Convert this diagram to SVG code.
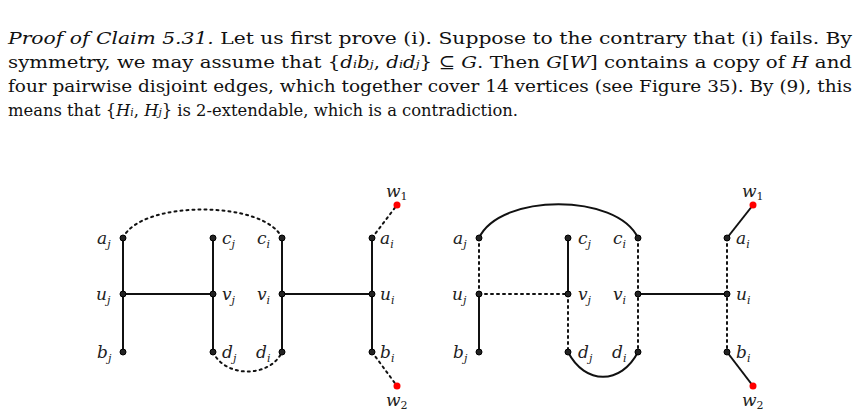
<svg xmlns="http://www.w3.org/2000/svg" width="862" height="414" viewBox="0 0 862 414">
<style>
.t{font-family:"DejaVu Serif",serif;font-size:17px;fill:#111}
.l{font-family:"DejaVu Serif",serif;font-size:17px;font-style:italic;fill:#222}
.s{font-size:11px}
.e{stroke:#111;stroke-width:2;fill:none}
.d{stroke:#111;stroke-width:2;fill:none;stroke-dasharray:2 4;stroke-linecap:round}
.n{fill:#222;stroke:#000;stroke-width:1}
.r{fill:#f00}
</style>
<rect width="862" height="414" fill="#fff"/>
<g id="text">
<text class="t" x="8" y="44" textLength="844" lengthAdjust="spacingAndGlyphs"><tspan font-style="italic">Proof of Claim 5.31.</tspan> Let us first prove (i).  Suppose to the contrary that (i) fails.  By</text>
<text class="t" x="8" y="68" textLength="844" lengthAdjust="spacingAndGlyphs">symmetry, we may assume that {<tspan font-style="italic">d</tspan><tspan class="s" font-style="italic">i</tspan><tspan font-style="italic">b</tspan><tspan class="s" font-style="italic">j</tspan>, <tspan font-style="italic">d</tspan><tspan class="s" font-style="italic">i</tspan><tspan font-style="italic">d</tspan><tspan class="s" font-style="italic">j</tspan>} ⊆ <tspan font-style="italic">G</tspan>. Then <tspan font-style="italic">G</tspan>[<tspan font-style="italic">W</tspan>] contains a copy of <tspan font-style="italic">H</tspan> and</text>
<text class="t" x="8" y="92" textLength="844" lengthAdjust="spacingAndGlyphs">four pairwise disjoint edges, which together cover 14 vertices (see Figure 35). By (9), this</text>
<text class="t" x="8" y="116" textLength="510" lengthAdjust="spacingAndGlyphs">means that {<tspan font-style="italic">H</tspan><tspan class="s" font-style="italic">i</tspan>, <tspan font-style="italic">H</tspan><tspan class="s" font-style="italic">j</tspan>} is 2-extendable, which is a contradiction.</text>
</g>
<g id="connectors">
<line class="e" x1="123" y1="238" x2="123" y2="352"/>
<line class="e" x1="123" y1="294" x2="213" y2="294"/>
<line class="e" x1="213" y1="238" x2="213" y2="352"/>
<line class="e" x1="282" y1="238" x2="282" y2="352"/>
<line class="e" x1="282" y1="294" x2="372" y2="294"/>
<line class="e" x1="372" y1="238" x2="372" y2="352"/>
<path class="d" d="M123 238 C140 200 265 200 282 238"/>
<path class="d" d="M213 352 C225 378 270 378 282 352"/>
<line class="d" x1="372" y1="238" x2="397" y2="205"/>
<line class="d" x1="372" y1="352" x2="397" y2="386"/>

<line class="d" x1="479" y1="238" x2="479" y2="294"/>
<line class="e" x1="479" y1="294" x2="479" y2="352"/>
<line class="d" x1="479" y1="294" x2="568" y2="294"/>
<line class="e" x1="568" y1="238" x2="568" y2="294"/>
<line class="d" x1="568" y1="294" x2="568" y2="352"/>
<line class="d" x1="638" y1="238" x2="638" y2="352"/>
<line class="e" x1="638" y1="294" x2="727" y2="294"/>
<line class="d" x1="727" y1="238" x2="727" y2="352"/>
<path class="e" d="M479 238 C500 193 617 193 638 238"/>
<path class="e" d="M568 352 C585 385 621 385 638 352"/>
<line class="e" x1="727" y1="238" x2="753" y2="205"/>
<line class="e" x1="727" y1="352" x2="753" y2="386"/>
</g>
<g id="nodes-left">
<g id="aj1"><circle class="n" cx="123" cy="238" r="3"/><text class="l" x="97" y="244">a<tspan class="s" dy="4">j</tspan></text></g>
<g id="uj1"><circle class="n" cx="123" cy="294" r="3"/><text class="l" x="96" y="300">u<tspan class="s" dy="4">j</tspan></text></g>
<g id="bj1"><circle class="n" cx="123" cy="352" r="3"/><text class="l" x="97" y="358">b<tspan class="s" dy="4">j</tspan></text></g>
<g id="cj1"><circle class="n" cx="213" cy="238" r="3"/><text class="l" x="222" y="244">c<tspan class="s" dy="4">j</tspan></text></g>
<g id="vj1"><circle class="n" cx="213" cy="294" r="3"/><text class="l" x="222" y="300">v<tspan class="s" dy="4">j</tspan></text></g>
<g id="dj1"><circle class="n" cx="213" cy="352" r="3"/><text class="l" x="222" y="358">d<tspan class="s" dy="4">j</tspan></text></g>
<g id="ci1"><circle class="n" cx="282" cy="238" r="3"/><text class="l" x="257" y="244">c<tspan class="s" dy="4">i</tspan></text></g>
<g id="vi1"><circle class="n" cx="282" cy="294" r="3"/><text class="l" x="257" y="300">v<tspan class="s" dy="4">i</tspan></text></g>
<g id="di1"><circle class="n" cx="282" cy="352" r="3"/><text class="l" x="256" y="358">d<tspan class="s" dy="4">i</tspan></text></g>
<g id="ai1"><circle class="n" cx="372" cy="238" r="3"/><text class="l" x="380" y="244">a<tspan class="s" dy="4">i</tspan></text></g>
<g id="ui1"><circle class="n" cx="372" cy="294" r="3"/><text class="l" x="380" y="300">u<tspan class="s" dy="4">i</tspan></text></g>
<g id="bi1"><circle class="n" cx="372" cy="352" r="3"/><text class="l" x="380" y="358">b<tspan class="s" dy="4">i</tspan></text></g>
<g id="w11"><circle class="r" cx="397" cy="205" r="3.5"/><text class="l" x="386" y="197">w<tspan class="s" dy="3" font-style="normal">1</tspan></text></g>
<g id="w21"><circle class="r" cx="397" cy="386" r="3.5"/><text class="l" x="386" y="406">w<tspan class="s" dy="3" font-style="normal">2</tspan></text></g>
</g>
<g id="nodes-right">
<g id="aj2"><circle class="n" cx="479" cy="238" r="3"/><text class="l" x="453" y="244">a<tspan class="s" dy="4">j</tspan></text></g>
<g id="uj2"><circle class="n" cx="479" cy="294" r="3"/><text class="l" x="452" y="300">u<tspan class="s" dy="4">j</tspan></text></g>
<g id="bj2"><circle class="n" cx="479" cy="352" r="3"/><text class="l" x="453" y="358">b<tspan class="s" dy="4">j</tspan></text></g>
<g id="cj2"><circle class="n" cx="568" cy="238" r="3"/><text class="l" x="578" y="244">c<tspan class="s" dy="4">j</tspan></text></g>
<g id="vj2"><circle class="n" cx="568" cy="294" r="3"/><text class="l" x="578" y="300">v<tspan class="s" dy="4">j</tspan></text></g>
<g id="dj2"><circle class="n" cx="568" cy="352" r="3"/><text class="l" x="578" y="358">d<tspan class="s" dy="4">j</tspan></text></g>
<g id="ci2"><circle class="n" cx="638" cy="238" r="3"/><text class="l" x="613" y="244">c<tspan class="s" dy="4">i</tspan></text></g>
<g id="vi2"><circle class="n" cx="638" cy="294" r="3"/><text class="l" x="613" y="300">v<tspan class="s" dy="4">i</tspan></text></g>
<g id="di2"><circle class="n" cx="638" cy="352" r="3"/><text class="l" x="612" y="358">d<tspan class="s" dy="4">i</tspan></text></g>
<g id="ai2"><circle class="n" cx="727" cy="238" r="3"/><text class="l" x="736" y="244">a<tspan class="s" dy="4">i</tspan></text></g>
<g id="ui2"><circle class="n" cx="727" cy="294" r="3"/><text class="l" x="736" y="300">u<tspan class="s" dy="4">i</tspan></text></g>
<g id="bi2"><circle class="n" cx="727" cy="352" r="3"/><text class="l" x="736" y="358">b<tspan class="s" dy="4">i</tspan></text></g>
<g id="w12"><circle class="r" cx="753" cy="205" r="3.5"/><text class="l" x="742" y="197">w<tspan class="s" dy="3" font-style="normal">1</tspan></text></g>
<g id="w22"><circle class="r" cx="753" cy="386" r="3.5"/><text class="l" x="742" y="406">w<tspan class="s" dy="3" font-style="normal">2</tspan></text></g>
</g>
</svg>
